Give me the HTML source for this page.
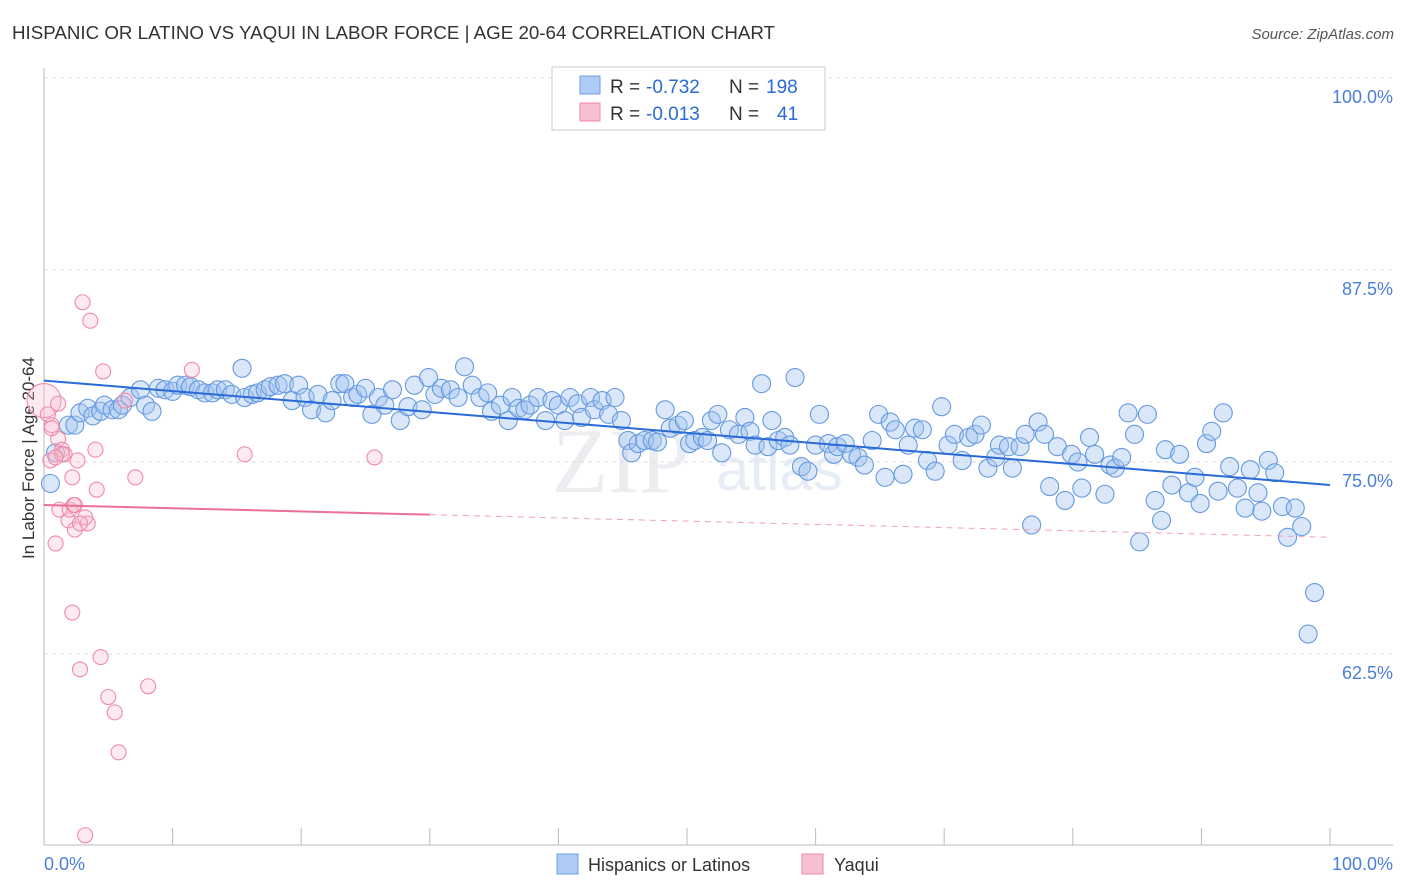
<!DOCTYPE html>
<html><head><meta charset="utf-8">
<style>
body{margin:0;background:#fff;font-family:"Liberation Sans",sans-serif;}
#wrap{position:relative;width:1406px;height:892px;overflow:hidden;}
</style></head>
<body>
<div id="wrap">
<svg id="svg" width="1406" height="892" xmlns="http://www.w3.org/2000/svg">
<text x="12" y="39" font-size="18" fill="#333" textLength="763" lengthAdjust="spacingAndGlyphs">HISPANIC OR LATINO VS YAQUI IN LABOR FORCE | AGE 20-64 CORRELATION CHART</text>
<text x="1394" y="39" font-size="15" fill="#555" font-style="italic" text-anchor="end">Source: ZipAtlas.com</text>
<text x="552" y="492" font-size="92" fill="#ecedf0" font-family="Liberation Serif">ZIP</text>
<text x="716" y="490" font-size="60" fill="#e6edf7">atlas</text>
<text transform="translate(34,458) rotate(-90)" font-size="17" fill="#333" text-anchor="middle">In Labor Force | Age 20-64</text>
<g id="grid"></g><g id="axes"></g><g id="pts"></g><g id="trend"></g>
<g>
<rect x="552" y="67" width="273" height="63" fill="#fff" stroke="#ccc"/>
<rect x="580" y="76" width="20" height="18" fill="#aecbf5" stroke="#6a9be0"/>
<rect x="580" y="103" width="20" height="18" fill="#f7c0d1" stroke="#f08aa8"/>
<text x="610" y="93" font-size="19" fill="#333">R =</text>
<text x="646" y="93" font-size="19" fill="#2a6ad6">-0.732</text>
<text x="729" y="93" font-size="19" fill="#333">N =</text>
<text x="766" y="93" font-size="19" fill="#2a6ad6">198</text>
<text x="610" y="120" font-size="19" fill="#333">R =</text>
<text x="646" y="120" font-size="19" fill="#2a6ad6">-0.013</text>
<text x="729" y="120" font-size="19" fill="#333">N =</text>
<text x="777" y="120" font-size="19" fill="#2a6ad6">41</text>
</g>
<g>
<rect x="557" y="854" width="21" height="20" fill="#aecbf5" stroke="#6a9be0"/>
<text x="588" y="871" font-size="18" fill="#333">Hispanics or Latinos</text>
<rect x="802" y="854" width="21" height="20" fill="#f7c0d1" stroke="#f08aa8"/>
<text x="834" y="871" font-size="18" fill="#333">Yaqui</text>
</g>
</svg>
</div>
<script>
const yTicks=[100,87.5,75,62.5];
const yTickLabels=["100.0%","87.5%","75.0%","62.5%"];
const xTickValues=[0,10,20,30,40,50,60,70,80,90,100];
const blueX=[0.5,0.9,1.9,2.4,2.8,3.4,3.8,4.4,4.7,5.3,5.8,6.1,6.7,7.5,7.9,8.4,8.9,9.4,10.0,10.4,11.0,11.4,12.0,12.5,13.1,13.5,14.1,14.6,15.4,15.6,16.2,16.6,17.2,17.6,18.2,18.7,19.3,19.8,20.3,20.8,21.3,21.9,22.4,23.0,23.4,24.0,24.4,25.0,25.5,26.0,26.5,27.1,27.7,28.3,28.8,29.4,29.9,30.4,30.9,31.6,32.2,32.7,33.3,33.9,34.5,34.8,35.5,36.1,36.4,36.9,37.4,37.8,38.4,39.0,39.5,40.0,40.5,40.9,41.5,41.8,42.5,42.8,43.4,43.9,44.4,44.9,45.4,45.7,46.2,46.7,47.3,47.7,48.3,48.7,49.3,49.8,50.2,50.6,51.2,51.6,51.9,52.4,52.7,53.3,54.0,54.5,54.9,55.3,55.8,56.3,56.6,57.1,57.6,58.0,58.4,58.9,59.4,60.0,60.3,61.0,61.4,61.7,62.3,62.8,63.3,63.8,64.4,64.9,65.4,65.8,66.2,66.8,67.2,67.7,68.3,68.7,69.3,69.8,70.3,70.8,71.4,71.9,72.4,72.9,73.4,74.0,74.3,75.0,75.3,75.9,76.3,76.8,77.3,77.8,78.2,78.8,79.4,79.9,80.4,80.7,81.3,81.7,82.5,82.9,83.3,83.8,84.3,84.8,85.2,85.8,86.4,86.9,87.2,87.7,88.3,89.0,89.5,89.9,90.4,90.8,91.3,91.7,92.2,92.8,93.4,93.8,94.4,94.7,95.2,95.7,96.3,96.7,97.3,97.8,98.3,98.8];
const blueY=[73.6,75.6,77.4,77.4,78.2,78.5,78.0,78.3,78.7,78.4,78.4,78.7,79.2,79.7,78.7,78.3,79.8,79.7,79.6,80.0,80.0,79.9,79.7,79.5,79.5,79.7,79.7,79.4,81.1,79.2,79.4,79.5,79.7,79.9,80.0,80.1,79.0,80.0,79.2,78.4,79.4,78.2,79.0,80.1,80.1,79.2,79.4,79.8,78.1,79.2,78.7,79.7,77.7,78.6,80.0,78.4,80.5,79.4,79.8,79.7,79.2,81.2,80.0,79.2,79.5,78.3,78.7,77.7,79.2,78.5,78.4,78.7,79.2,77.7,79.0,78.7,77.7,79.2,78.8,77.9,79.2,78.4,79.0,78.1,79.2,77.7,76.4,75.6,76.2,76.4,76.4,76.3,78.4,77.2,77.4,77.7,76.2,76.4,76.6,76.4,77.7,78.1,75.6,77.1,76.8,77.9,77.0,76.1,80.1,76.0,77.7,76.4,76.6,76.1,80.5,74.7,74.4,76.1,78.1,76.2,75.5,76.0,76.2,75.5,75.3,74.8,76.4,78.1,74.0,77.6,77.1,74.2,76.1,77.2,77.1,75.1,74.4,78.6,76.1,76.8,75.1,76.6,76.8,77.4,74.6,75.3,76.1,76.0,74.6,76.0,76.8,70.9,77.6,76.8,73.4,76.0,72.5,75.5,75.0,73.3,76.6,75.5,72.9,74.8,74.6,75.3,78.2,76.8,69.8,78.1,72.5,71.2,75.8,73.5,75.5,73.0,74.0,72.3,76.2,77.0,73.1,78.2,74.7,73.3,72.0,74.5,73.0,71.8,75.1,74.3,72.1,70.1,72.0,70.8,63.8,66.5];
const pinkX=[0.0,0.3,0.6,0.5,1.1,0.9,1.2,1.4,1.6,1.9,2.0,2.2,2.4,2.6,2.2,2.8,3.0,3.6,4.0,4.1,4.4,4.6,5.0,5.5,5.8,3.2,7.1,8.1,11.5,6.3,15.6,25.7,3.4,2.3,3.2,1.1,1.4,2.4,0.6,0.9,2.8];
const pinkY=[79.0,78.1,77.4,75.1,76.5,69.7,71.9,75.8,75.5,71.2,71.9,74.0,70.6,75.1,65.2,61.5,85.4,84.2,75.8,73.2,62.3,80.9,59.7,58.7,56.1,50.7,74.0,60.4,81.0,79.0,75.5,75.3,71.0,72.2,71.4,78.8,75.5,72.2,77.2,75.3,71.0];
const blueTrend=[80.3,73.5];
const pinkTrend=[72.2,70.1];
const pinkSolidEnd=30;

const NS="http://www.w3.org/2000/svg";
function sx(v){return 44+v*12.86;}
function sy(v){return 78+(100-v)*15.36;}
function mk(tag,attrs,parent){const e=document.createElementNS(NS,tag);for(const k in attrs)e.setAttribute(k,attrs[k]);parent.appendChild(e);return e;}
const grid=document.getElementById('grid'),axes=document.getElementById('axes'),pts=document.getElementById('pts'),tr=document.getElementById('trend');
yTicks.forEach((t,i)=>{
 const l=mk('line',{x1:44,x2:1393,y1:sy(t),y2:sy(t),stroke:'#ddd','stroke-dasharray':'4,4'},grid);
 
 
 const tx=mk('text',{x:1393,y:sy(t)+25,'font-size':18,fill:'#4a7fd9','text-anchor':'end'},grid);
 tx.textContent=yTickLabels[i];
 
 
});
const la=mk('line',{x1:44,x2:44,y1:68,y2:845,stroke:'#bbb'},axes);


const ba=mk('line',{x1:44,x2:1393,y1:845,y2:845,stroke:'#bbb'},axes);


xTickValues.forEach(t=>{
 const l=mk('line',{x1:sx(t),x2:sx(t),y1:828,y2:845,stroke:'#bbb'},axes);
 
 
});
const x0=mk('text',{x:44,y:870,'font-size':18,fill:'#4a7fd9'},axes);x0.textContent='0.0%';


const x1=mk('text',{x:1393,y:870,'font-size':18,fill:'#4a7fd9','text-anchor':'end'},axes);x1.textContent='100.0%';


blueX.forEach((x,i)=>{
 const c=mk('circle',{cx:sx(x),cy:sy(blueY[i]),r:9,fill:'rgba(160,195,240,0.4)',stroke:'#6599e0','stroke-width':1.1},pts);
 
 
});
pinkX.forEach((x,i)=>{
 const c=mk('circle',{cx:sx(x),cy:sy(pinkY[i]),r:i===0?17:7.5,fill:'rgba(247,185,205,0.3)',stroke:'#f08aa8','stroke-width':1.1},pts);
 
 
});
const bl=mk('line',{x1:sx(0),y1:sy(blueTrend[0]),x2:sx(100),y2:sy(blueTrend[1]),stroke:'#2a6ad6','stroke-width':2},tr);


const pm=pinkTrend[0]+(pinkTrend[1]-pinkTrend[0])*pinkSolidEnd/100;
const pl=mk('line',{x1:sx(0),y1:sy(pinkTrend[0]),x2:sx(pinkSolidEnd),y2:sy(pm),stroke:'#ec6f96','stroke-width':2},tr);


const pd=mk('line',{x1:sx(pinkSolidEnd),y1:sy(pm),x2:sx(100),y2:sy(pinkTrend[1]),stroke:'#f0a0b8','stroke-width':1,'stroke-dasharray':'6,5'},tr);


</script>
</body></html>
